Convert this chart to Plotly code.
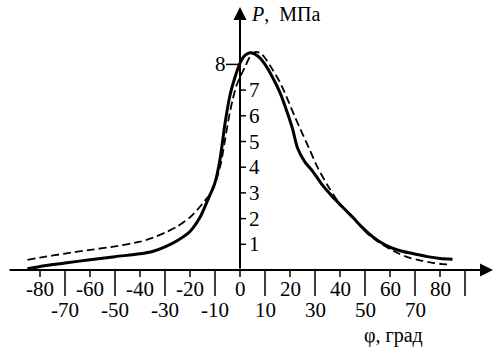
import plotly.graph_objects as go

# ---- data ----
phi_solid = [-85, -80, -70, -60, -50, -40, -35, -30, -25, -20, -16, -13, -10, -8, -6, -4, -2,
             0, 2, 4, 6, 8, 10, 13, 16, 19, 21, 23, 26, 29, 33, 37, 41, 45, 49, 53, 58, 63, 69, 75, 80, 85]
p_solid = [0.05, 0.14, 0.27, 0.4, 0.52, 0.63, 0.72, 0.9, 1.15, 1.5, 2.05, 2.7, 3.4, 4.3, 5.7, 6.8, 7.5,
           8.05, 8.35, 8.45, 8.4, 8.25, 8.0, 7.5, 6.9, 6.1, 5.5, 4.75, 4.2, 3.85, 3.3, 2.85, 2.45, 2.06, 1.65, 1.3, 0.98, 0.78, 0.64, 0.52, 0.45, 0.42]

phi_dash = [-85, -80, -70, -60, -50, -40, -35, -30, -25, -20, -17, -14, -11, -8, -6, -4.5, -3, -1.5,
            0, 2, 4, 6, 8, 10, 13, 16, 19, 22, 25, 28, 31, 35, 39, 43, 47, 51, 56, 60, 63, 67, 72, 77, 81, 83]
p_dash = [0.39, 0.48, 0.64, 0.78, 0.92, 1.1, 1.25, 1.45, 1.7, 2.05, 2.35, 2.7, 3.1, 4.0, 5.06, 5.9, 6.6, 7.15,
          7.5, 7.9, 8.3, 8.48, 8.45, 8.25, 7.8, 7.3, 6.65, 5.95, 5.3, 4.65, 4.0, 3.3, 2.7, 2.25, 1.83, 1.42, 1.05, 0.82, 0.66, 0.5, 0.37, 0.28, 0.23, 0.22]

x_ticks_upper = [-80, -60, -40, -20, 0, 20, 40, 60, 80]
x_ticks_lower = [-70, -50, -30, -10, 10, 30, 50, 70]
x_long_ticks = [-70, -50, -30, -10, 10, 30, 50, 70, 90]
y_ticks = [1, 2, 3, 4, 5, 6, 7, 8]

x_title = "φ, град"
y_title = "<i>P</i>,  МПа"

# ---- geometry helpers (pixel scale of reference: 2.5 px/deg, 25.7 px/MPa) ----
XR = [-96, 102]
YR = [(270 - 347) / 25.7, 270 / 25.7]
px_y = 1 / 25.7
px_x = 1 / 2.5

FONT = "Liberation Serif"
fig = go.Figure()

fig.add_trace(go.Scatter(x=phi_dash, y=p_dash, mode="lines",
                         line=dict(color="black", width=1.8, dash="8px,4px", shape="spline", smoothing=0.8),
                         hoverinfo="skip"))
fig.add_trace(go.Scatter(x=phi_solid, y=p_solid, mode="lines",
                         line=dict(color="black", width=3, shape="spline", smoothing=0.8),
                         hoverinfo="skip"))

shapes = []
# x ticks
for t in x_ticks_upper:
    shapes.append(dict(type="line", x0=t, x1=t, y0=0, y1=-7 * px_y, xref="x", yref="y",
                       line=dict(color="black", width=1.5)))
for t in x_long_ticks:
    shapes.append(dict(type="line", x0=t, x1=t, y0=0, y1=-26 * px_y, xref="x", yref="y",
                       line=dict(color="black", width=1.5)))
# y ticks
for t in y_ticks:
    if t == 8:
        shapes.append(dict(type="line", x0=-14 * px_x, x1=0, y0=t, y1=t, xref="x", yref="y",
                           line=dict(color="black", width=1.5)))
    else:
        shapes.append(dict(type="line", x0=0, x1=6 * px_x, y0=t, y1=t, xref="x", yref="y",
                           line=dict(color="black", width=1.5)))

annotations = []
# axis arrows
annotations.append(dict(x=101.2, y=0, ax=-92.8, ay=0, xref="x", yref="y", axref="x", ayref="y",
                        showarrow=True, arrowhead=2, arrowsize=1.3, arrowwidth=2, arrowcolor="black",
                        text="", standoff=0, startstandoff=0))
annotations.append(dict(x=0, y=(270 - 7) / 25.7, ax=0, ay=0, xref="x", yref="y", axref="x", ayref="y",
                        showarrow=True, arrowhead=2, arrowsize=1.3, arrowwidth=2, arrowcolor="black",
                        text="", standoff=0, startstandoff=0))
# x tick labels
for t in x_ticks_upper:
    annotations.append(dict(x=t, y=-19 * px_y, xref="x", yref="y", text=str(t), showarrow=False,
                            font=dict(family=FONT, size=21, color="black"), xanchor="center", yanchor="middle"))
for t in x_ticks_lower:
    annotations.append(dict(x=t, y=-40 * px_y, xref="x", yref="y", text=str(t), showarrow=False,
                            font=dict(family=FONT, size=21, color="black"), xanchor="center", yanchor="middle"))
# y tick labels
for t in y_ticks:
    if t == 8:
        annotations.append(dict(x=-20 * px_x, y=t, xref="x", yref="y", text=str(t), showarrow=False,
                                font=dict(family=FONT, size=21, color="black"), xanchor="center", yanchor="middle"))
    else:
        annotations.append(dict(x=7 * px_x, y=t, xref="x", yref="y", text=str(t), showarrow=False,
                                font=dict(family=FONT, size=21, color="black"), xanchor="left", yanchor="middle"))
# axis titles
annotations.append(dict(x=(249 - 240) * px_x, y=(270 - 14) * px_y, xref="x", yref="y", text=y_title,
                        showarrow=False, font=dict(family=FONT, size=20, color="black"),
                        xanchor="left", yanchor="middle"))
annotations.append(dict(x=(362 - 240) * px_x, y=(270 - 335) * px_y, xref="x", yref="y", text=x_title,
                        showarrow=False, font=dict(family=FONT, size=20, color="black"),
                        xanchor="left", yanchor="middle"))

fig.update_layout(
    width=495, height=347,
    margin=dict(l=0, r=0, t=0, b=0),
    paper_bgcolor="white", plot_bgcolor="white",
    showlegend=False,
    xaxis=dict(range=XR, visible=False, fixedrange=True),
    yaxis=dict(range=YR, visible=False, fixedrange=True),
    shapes=shapes, annotations=annotations,
)

fig.write_html("out.html", config={"displayModeBar": False},
               post_script="document.body.style.margin='0px';document.body.style.overflow='hidden';")
